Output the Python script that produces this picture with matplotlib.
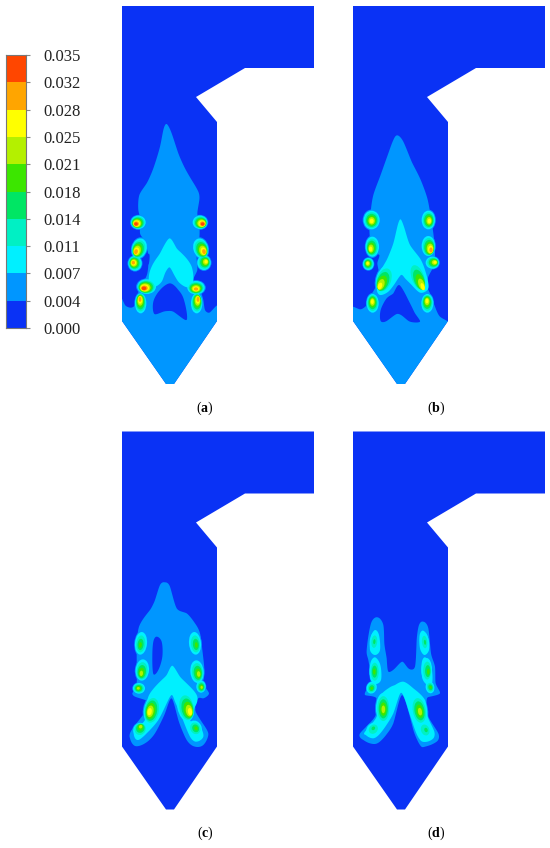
import matplotlib
matplotlib.use('Agg')
import matplotlib.pyplot as plt
import numpy as np
from matplotlib.patches import Polygon, Ellipse

plt.rcParams['font.family'] = ['Liberation Serif', 'DejaVu Serif']
plt.rcParams['mathtext.fontset'] = 'custom'
plt.rcParams['mathtext.bf'] = 'Liberation Serif:bold'
plt.rcParams['mathtext.rm'] = 'Liberation Serif'

levels = [0.000, 0.004, 0.007, 0.011, 0.014, 0.018, 0.021, 0.025, 0.028, 0.032, 0.035]
level_colors = ['#0a32f5', '#0096ff', '#00f0ff', '#00f0c4', '#00e664',
                '#3ce600', '#b4f000', '#ffff00', '#ffa500', '#ff4600']

furnace = [(122, 6), (314, 6), (314, 68), (245, 68), (196, 97), (217, 122),
           (217, 321), (174, 384), (166, 384), (122, 321)]

# outlines are read in crop pixels (3x), each panel has its crop origin
origin_a = (110, 110)
plume_a = [(170, 42), (185, 70), (205, 130), (225, 175), (245, 210), (265, 245), (268, 270),
           (262, 310), (268, 340), (268, 385), (260, 440), (262, 480), (250, 510), (268, 535),
           (280, 570), (285, 600), (300, 607), (325, 585), (325, 640), (190, 830), (165, 830),
           (30, 640), (30, 560), (45, 585), (62, 593), (75, 585), (82, 560), (88, 535), (100, 515),
           (112, 490), (115, 440), (105, 395), (90, 370), (92, 330), (85, 300), (88, 255),
           (110, 220), (130, 175), (150, 110), (160, 60)]
holes_a = [[(180, 520), (205, 540), (222, 570), (230, 630), (190, 605), (160, 605), (133, 612),
            (130, 575), (150, 540)],
           [(118, 433), (116, 462), (106, 460), (104, 436)]]
cyan_a = [[(178, 385), (200, 415), (225, 440), (245, 470), (250, 510), (240, 530), (225, 530), (205, 515),
           (190, 490), (178, 472), (165, 490), (155, 515), (135, 530), (118, 520), (118, 490),
           (130, 460), (150, 430)]]
spots_a = [(85, 337, 22, 20, 0, 78, 342, 9), (88, 415, 22, 30, 15, 78, 425, 8),
           (75, 460, 20, 22, 0, 70, 458, 8), (110, 530, 28, 22, 0, 102, 535, 9),
           (92, 580, 17, 30, 0, 90, 568, 8), (270, 337, 22, 20, 0, 278, 342, 9),
           (272, 415, 22, 30, -15, 282, 425, 8), (282, 458, 20, 22, 0, 288, 455, 7),
           (258, 533, 26, 20, 0, 258, 537, 8), (260, 580, 17, 30, 0, 264, 568, 8)]

origin_b = (340, 120)
plume_b = [(172, 46), (190, 65), (215, 125), (240, 175), (262, 235), (272, 290), (280, 340), (285, 400),
           (280, 440), (265, 470), (262, 500), (270, 520), (285, 560), (300, 590), (328, 605),
           (328, 610), (190, 800), (168, 800), (30, 610), (30, 560), (60, 568), (80, 555), (90, 530),
           (105, 505), (118, 470), (112, 430), (118, 405), (95, 390), (88, 320), (92, 275),
           (100, 225), (120, 170), (145, 100), (160, 60)]
holes_b = [[(178, 495), (205, 540), (225, 580), (240, 605), (210, 605), (190, 590), (170, 582),
            (140, 603), (122, 603), (122, 570), (140, 535), (160, 520)]]
cyan_b = [[(182, 298), (195, 330), (210, 375), (240, 415), (255, 450), (265, 490), (262, 510),
           (240, 518), (215, 495), (195, 475), (183, 465), (165, 490), (145, 515), (120, 525),
           (110, 505), (118, 460), (140, 420), (160, 370), (172, 320)]]
spots_b = [(95, 300, 24, 28, 0, 95, 303, 7), (97, 380, 20, 30, 0, 92, 387, 7),
           (85, 432, 16, 18, 0, 83, 430, 7), (135, 475, 25, 42, 20, 120, 498, 7),
           (98, 550, 18, 28, 0, 97, 545, 7), (265, 300, 20, 28, 0, 268, 303, 7),
           (265, 378, 20, 30, 0, 273, 390, 8), (277, 428, 20, 18, 0, 285, 427, 7),
           (230, 465, 22, 45, -20, 248, 500, 7), (262, 550, 18, 28, 0, 261, 543, 7)]

origin_c = (115, 570)
plume_c = [(150, 37), (165, 50), (185, 115), (215, 130), (240, 160), (255, 190), (262, 240), (268, 300),
           (265, 340), (282, 370), (265, 385), (250, 385), (240, 420), (270, 470), (280, 495),
           (265, 525), (240, 530), (215, 510), (190, 450), (170, 385), (150, 430), (120, 490),
           (90, 520), (60, 528), (45, 505), (50, 480), (95, 420), (100, 395), (65, 382), (52, 370),
           (65, 340), (65, 250), (72, 170), (105, 120), (120, 90), (135, 45)]
holes_c = [[(125, 200), (140, 215), (142, 260), (130, 300), (115, 312), (112, 260), (115, 215)]]
cyan_c = [[(172, 287), (195, 320), (225, 350), (245, 375), (245, 400), (225, 450), (255, 470), (265, 500),
           (245, 515), (225, 500), (200, 440), (180, 395), (170, 375), (155, 400), (130, 450),
           (95, 490), (70, 510), (58, 500), (60, 480), (90, 450), (95, 400), (105, 370), (130, 340),
           (155, 315)]]
spots_c = [(78, 220, 18, 34, 5, 76, 225, 5), (82, 300, 20, 32, 5, 79, 310, 6),
           (72, 355, 18, 16, 0, 70, 355, 6), (112, 420, 25, 44, 10, 104, 425, 7),
           (75, 480, 20, 22, 30, 77, 470, 6), (240, 220, 18, 34, -5, 244, 225, 5),
           (246, 305, 20, 34, -5, 251, 312, 6), (258, 350, 14, 18, 0, 260, 352, 6),
           (212, 410, 25, 44, -10, 225, 425, 7), (240, 475, 20, 24, -25, 243, 475, 5)]

origin_d = (345, 600)
plume_d = [(98, 52), (115, 75), (118, 130), (125, 175), (130, 215), (150, 205), (172, 185), (190, 205),
           (210, 200), (215, 120), (222, 75), (235, 65), (250, 85), (258, 160), (270, 200), (272, 250),
           (285, 280), (255, 290), (245, 300), (250, 350), (280, 400), (275, 425), (240, 440),
           (225, 435), (205, 390), (172, 285), (145, 370), (110, 420), (85, 432), (55, 420),
           (45, 400), (90, 350), (95, 295), (60, 285), (70, 260), (78, 240), (70, 180), (65, 150),
           (78, 70)]
holes_d = []
cyan_d = [[(175, 245), (205, 265), (240, 300), (248, 350), (268, 395), (262, 418), (232, 425), (212, 395),
           (190, 330), (168, 278), (145, 340), (110, 395), (85, 415), (62, 405), (60, 395), (95, 350),
           (100, 295), (130, 265), (150, 255)],
          [(90, 90), (102, 105), (105, 150), (90, 165), (75, 150), (78, 110)],
          [(90, 172), (106, 195), (108, 240), (90, 252), (76, 235), (76, 190)],
          [(235, 92), (250, 115), (252, 150), (238, 165), (225, 145), (224, 105)],
          [(240, 172), (258, 195), (262, 245), (248, 255), (232, 235), (230, 190)]]
spots_d = [(88, 125, 14, 30, 5, 88, 125, 4), (90, 215, 16, 36, 0, 88, 215, 5),
           (80, 263, 15, 18, 20, 80, 265, 5), (115, 325, 22, 46, 0, 115, 328, 6),
           (85, 390, 20, 24, 40, 85, 385, 4), (238, 125, 13, 30, -5, 240, 127, 4),
           (245, 210, 16, 36, 0, 250, 215, 5), (255, 262, 13, 18, -10, 257, 262, 5),
           (222, 330, 24, 46, -10, 225, 335, 6), (238, 390, 20, 27, -20, 243, 390, 4)]

panels = [('a', 0, 0, origin_a, plume_a, holes_a, cyan_a, spots_a),
          ('b', 231, 0, origin_b, plume_b, holes_b, cyan_b, spots_b),
          ('c', 0, 425.5, origin_c, plume_c, holes_c, cyan_c, spots_c),
          ('d', 231, 425.5, origin_d, plume_d, holes_d, cyan_d, spots_d)]


def smooth(pts, n=3):
    # four point subdivision, goes through the read points so nothing shrinks
    p = np.array(pts, dtype=float)
    for _ in range(n):
        mid = (9 * (p + np.roll(p, -1, axis=0)) - np.roll(p, 1, axis=0) - np.roll(p, -2, axis=0)) / 16
        p = np.column_stack([p, mid]).reshape(-1, 2)
    return p


def crop_to_fig(pts, origin):
    return [(x / 3 + origin[0], y / 3 + origin[1]) for x, y in pts]


fig = plt.figure(figsize=(5.5, 8.48), dpi=100)
ax = fig.add_axes([0, 0, 1, 1])
ax.set_xlim(0, 550)
ax.set_ylim(848, 0)
ax.axis('off')

for name, dx, dy, origin, plume, holes, cyan, spots in panels:
    outline = [(x + dx, y + dy) for x, y in furnace]
    body = Polygon(outline, closed=True, fc=level_colors[0], ec='none', zorder=1)
    ax.add_patch(body)

    def add(pts, color, z):
        patch = Polygon(smooth(crop_to_fig(pts, origin)), closed=True, fc=color, ec='none', zorder=z)
        ax.add_patch(patch)
        patch.set_clip_path(body)

    add(plume, level_colors[1], 2)
    for h in holes:
        add(h, level_colors[0], 3)
    for cx, cy, rx, ry, ang, hx, hy, peak in spots:
        # halo, then one ellipse per colour level closing in on the hot point
        for lev in range(1, peak + 1):
            if lev == 1:
                s, t, z = 1.12, 0, 4
            else:
                t = (lev - 2) / max(peak - 2, 1)
                s, z = 1 - 0.75 * t, 5 + lev * 0.1
            xc, yc = crop_to_fig([(cx + (hx - cx) * t, cy + (hy - cy) * t)], origin)[0]
            e = Ellipse((xc, yc), 2 * rx * s / 3, 2 * ry * s / 3, angle=ang,
                        fc=level_colors[lev], ec='none', zorder=z)
            ax.add_patch(e)
            e.set_clip_path(body)
    for c in cyan:
        add(c, level_colors[2], 4.5)

    ax.text(205 + dx, 408 + dy, r'($\mathbf{%s}$)' % name, ha='center', va='center',
            fontsize=10, color='black')

cax = fig.add_axes([6 / 550, 1 - 328 / 848, 20 / 550, 273 / 848])
steps = np.arange(len(levels))
cax.bar(np.zeros(len(level_colors)), np.ones(len(level_colors)), bottom=steps[:-1], width=1, color=level_colors)
cax.set_xlim(-0.5, 0.5)
cax.set_ylim(steps[0], steps[-1])
cax.set_xticks([])
cax.yaxis.tick_right()
# ticks are evenly spaced on the bar, labels rounded to 3 decimals
cax.set_yticks(steps)
cax.set_yticklabels(['%.3f' % v for v in levels], fontsize=12, color='#222222')
cax.tick_params(axis='y', length=3, width=0.8, color='#888888', pad=9.5)
for sp in cax.spines.values():
    sp.set_color('#777777')
    sp.set_linewidth(0.8)

fig.savefig('out.png', dpi=100)
